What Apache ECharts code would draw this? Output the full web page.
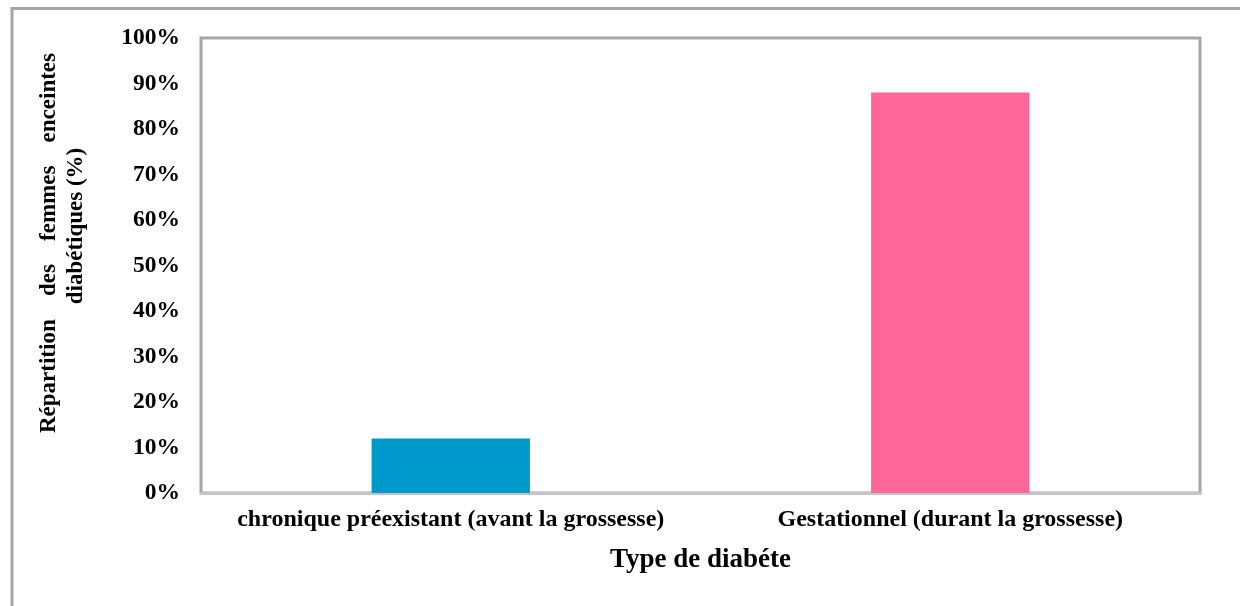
<!DOCTYPE html>
<html>
<head>
<meta charset="utf-8">
<script src="https://cdn.jsdelivr.net/npm/echarts@6/dist/echarts.min.js"></script>
<style>
  html, body { margin: 0; padding: 0; background: #ffffff; }
  #chart { width: 1240px; height: 606px; }
</style>
</head>
<body>
<div id="chart"></div>
<script>
// Diabetes type among pregnant women (share, %)
const categories = [
  'chronique préexistant (avant la grossesse)',
  'Gestationnel (durant la grossesse)'
];
const shares = [12, 88];
const barColors = ['#0099CC', '#FF6699'];
const yTicks = { min: 0, max: 100, interval: 10 };

const xTitle = 'Type de diabéte';
const yTitleWords = ['Répartition', 'des', 'femmes', 'enceintes'];
const yTitleSecond = 'diabétiques (%)';

const serif = '"Liberation Serif", "Times New Roman", serif';
const frameGray = '#a6a6a6';

const chart = echarts.init(document.getElementById('chart'), null, { renderer: 'canvas' });

// Y title: first line justified across the box, second line centred
const titleFont = 'bold 23px ' + serif;
const boxStart = 433, boxEnd = 53;
const ctx = document.createElement('canvas').getContext('2d');
ctx.font = titleFont;
const wordW = yTitleWords.map(w => ctx.measureText(w).width);
const gap = ((boxStart - boxEnd) - wordW.reduce((a, b) => a + b, 0)) / (yTitleWords.length - 1);
const titleGraphics = [];
let pos = boxStart;
yTitleWords.forEach((w, i) => {
  titleGraphics.push({
    type: 'text', x: 49, y: pos, rotation: Math.PI / 2,
    style: { text: w, fill: '#000', font: titleFont, align: 'left', verticalAlign: 'middle' }
  });
  pos -= wordW[i] + gap;
});
titleGraphics.push({
  type: 'text', x: 76, y: 226, rotation: Math.PI / 2,
  style: { text: yTitleSecond, fill: '#000', font: titleFont, align: 'center', verticalAlign: 'middle' }
});

chart.setOption({
  backgroundColor: '#ffffff',
  animation: false,
  grid: {
    left: 201, right: 40, top: 38, bottom: 113,
    show: true,
    borderColor: frameGray,
    borderWidth: 3,
    backgroundColor: 'transparent'
  },
  xAxis: {
    type: 'category',
    data: categories,
    axisTick: { show: false },
    axisLine: { show: true, lineStyle: { color: '#c4c4c4', width: 3 } },
    axisLabel: {
      color: '#000',
      fontFamily: serif,
      fontWeight: 'bold',
      fontSize: 24,
      margin: 15,
      interval: 0
    },
    name: xTitle,
    nameLocation: 'middle',
    nameGap: 54,
    nameTextStyle: {
      color: '#000',
      fontFamily: serif,
      fontWeight: 'bold',
      fontSize: 27
    }
  },
  yAxis: {
    type: 'value',
    min: yTicks.min,
    max: yTicks.max,
    interval: yTicks.interval,
    axisLine: { show: false },
    axisTick: { show: false },
    splitLine: { show: false },
    axisLabel: {
      formatter: '{value}%',
      color: '#000',
      fontFamily: serif,
      fontWeight: 'bold',
      fontSize: 23.5,
      margin: 21
    }
  },
  series: [{
    type: 'bar',
    barWidth: '31.7%',
    data: shares.map((v, i) => ({ value: v, itemStyle: { color: barColors[i] } }))
  }],
  graphic: [
    // outer frame (top and left edges)
    { type: 'line', shape: { x1: 11, y1: 8.5, x2: 1240, y2: 8.5 },
      style: { stroke: frameGray, lineWidth: 3 }, z: 10 },
    { type: 'line', shape: { x1: 12, y1: 7, x2: 12, y2: 606 },
      style: { stroke: frameGray, lineWidth: 3 }, z: 10 }
  ].concat(titleGraphics)
});
</script>
</body>
</html>
